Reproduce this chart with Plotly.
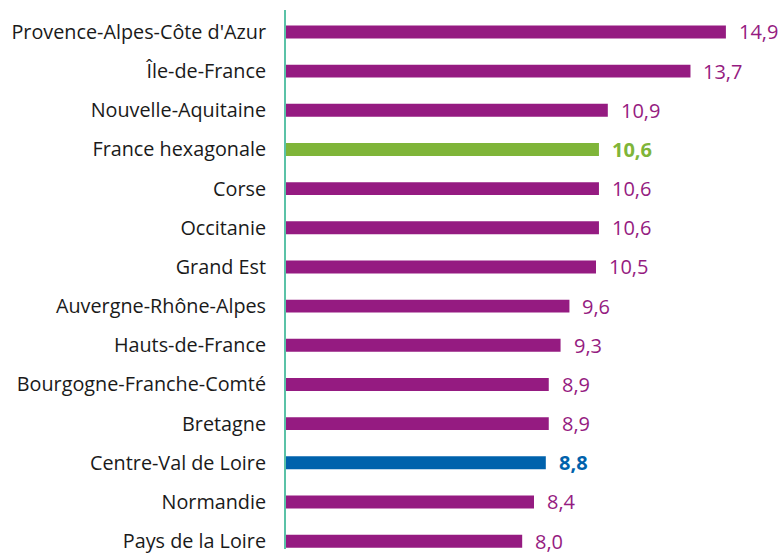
import plotly.graph_objects as go

regions = ["Provence-Alpes-Côte d'Azur", "Île-de-France", "Nouvelle-Aquitaine",
           "France hexagonale", "Corse", "Occitanie", "Grand Est",
           "Auvergne-Rhône-Alpes", "Hauts-de-France", "Bourgogne-Franche-Comté",
           "Bretagne", "Centre-Val de Loire", "Normandie", "Pays de la Loire"]
values = [14.9, 13.7, 10.9, 10.6, 10.6, 10.6, 10.5, 9.6, 9.3, 8.9, 8.9, 8.8, 8.4, 8.0]

PURPLE = "#951B81"
GREEN = "#7FB539"
BLUE = "#0062AC"
special = {"France hexagonale": GREEN, "Centre-Val de Loire": BLUE}
colors = [special.get(r, PURPLE) for r in regions]

fig = go.Figure(go.Bar(
    x=values, y=regions, orientation="h",
    marker=dict(color=colors, line=dict(width=0)),
    width=0.33, hoverinfo="skip",
))

for r, v, c in zip(regions, values, colors):
    bold = r in special
    txt = f"{v:.1f}".replace(".", ",")
    if bold:
        txt = f"<b>{txt}</b>"
    fig.add_annotation(x=v, y=r, text=txt, showarrow=False, xanchor="left",
                       xshift=11, font=dict(family="Open Sans", size=20, color=c))

fig.update_layout(
    width=782, height=554,
    margin=dict(l=286, r=0, t=10, b=0),
    paper_bgcolor="white", plot_bgcolor="white",
    showlegend=False,
    xaxis=dict(range=[0, 16.8], visible=False, fixedrange=True),
    yaxis=dict(range=[13.2, -0.56], showline=True, linecolor="#5BC2A7",
               linewidth=2, showgrid=False, ticks="", ticklabelstandoff=14,
               tickfont=dict(family="Open Sans", size=19.8, color="#1a1a1a"),
               fixedrange=True),
)

fig.write_html("out.html", config={"displayModeBar": False, "staticPlot": True},
               post_script="document.body.style.margin='0';")
